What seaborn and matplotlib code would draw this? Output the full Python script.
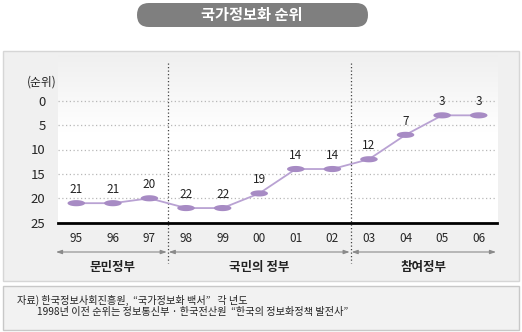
import numpy as np
import matplotlib
matplotlib.use("Agg")
import matplotlib.pyplot as plt
import seaborn as sns
import pandas as pd
from matplotlib.path import Path
from matplotlib.patches import FancyBboxPatch, Rectangle

# ---- data ----
years = ["95", "96", "97", "98", "99", "00", "01", "02", "03", "04", "05", "06"]
ranks = [21, 21, 20, 22, 22, 19, 14, 14, 12, 7, 3, 3]
y_ticks = [0, 5, 10, 15, 20, 25]
eras = ["문민정부", "국민의 정부", "참여정부"]
era_spans = [(0, 3), (3, 8), (8, 12)]
title = "국가정보화 순위"
y_label = "(순위)"
source_lines = ["자료) 한국정보사회진흥원,  “국가정보화 백서”   각 년도",
                "1998년 이전 순위는 정보통신부 · 한국전산원  “한국의 정보화정책 발전사”"]

sns.set_style("white")
plt.rcParams['font.family'] = ['Noto Sans CJK KR', 'DejaVu Sans']

W, H = 522, 332
fig = plt.figure(figsize=(W / 100, H / 100), dpi=100)

# background axes in pixel coordinates
bg = fig.add_axes([0, 0, 1, 1])
bg.set_xlim(0, W)
bg.set_ylim(H, 0)
bg.axis("off")

# title pill
bg.add_patch(FancyBboxPatch((137, 3), 231, 24, boxstyle="round,pad=0,rounding_size=12",
                            fc="#7f7f7f", ec="none", mutation_aspect=1))
bg.text(252, 15, title, color="white", fontsize=11, fontweight="bold",
        ha="center", va="center")

# main panel
bg.add_patch(Rectangle((3, 51), 516, 230, fc="#f0f0f0", ec="#d6d6d6", lw=1))
grad = np.linspace(0, 1, 100).reshape(-1, 1)
grad = np.clip(grad * 2.2, 0, 1)
img = np.dstack([0.94 + 0.06 * grad] * 3)
bg.imshow(img, extent=(58, 498, 225, 55), aspect="auto", interpolation="bilinear", zorder=1)

# footer panel
bg.add_patch(Rectangle((3, 286), 516, 44, fc="#f2f2f2", ec="#c8c8c8", lw=1))
bg.text(17, 300, source_lines[0], fontsize=7.3, va="center", ha="left", color="#222222")
bg.text(37, 312, source_lines[1], fontsize=7.3, va="center", ha="left", color="#222222")

# main axes
x0, x1 = 58, 497
y25, y0px = 222.7, 100.7
ytop = 63
ppu = (y25 - y0px) / 25
ax = fig.add_axes([x0 / W, 1 - y25 / H, (x1 - x0) / W, (y25 - ytop) / H])
ax.patch.set_alpha(0)
ax.set_xlim(0, len(years))
ax.set_ylim(25, -(y0px - ytop) / ppu)

df = pd.DataFrame({"pos": np.arange(len(years)) + 0.5, "rank": ranks})

for g in y_ticks[:-1]:
    ax.axhline(g, color="#b8b8b8", lw=0.9, ls=(0, (1, 2)), zorder=1)

sns.lineplot(data=df, x="pos", y="rank", ax=ax, color="#b9a2d3", lw=1.3, zorder=3)
t = np.linspace(0, 2 * np.pi, 40)
ell = Path(np.column_stack([np.cos(t), 0.35 * np.sin(t)]), closed=True)
sns.scatterplot(data=df, x="pos", y="rank", ax=ax, marker=ell, s=160,
                color="#a78bc4", edgecolor="none", linewidth=0, zorder=4)

for p, r in zip(df["pos"], ranks):
    ax.annotate(str(r), (p, r), xytext=(0, 5), textcoords="offset points",
                ha="center", va="bottom", fontsize=8.5, color="#222222")

for s in ["left", "right", "top"]:
    ax.spines[s].set_visible(False)
ax.spines["bottom"].set_color("black")
ax.spines["bottom"].set_linewidth(2)

ax.set_xticks(np.arange(len(years) + 1))
ax.set_xticklabels([])
ax.tick_params(axis="x", which="major", direction="in", length=5, width=1.3, color="black")
ax.set_xticks(np.arange(len(years)) + 0.5, minor=True)
ax.set_xticklabels(years, minor=True, fontsize=8.5)
ax.tick_params(axis="x", which="minor", length=0, pad=7)

ax.set_yticks(y_ticks)
ax.set_yticklabels([str(v) for v in y_ticks], fontsize=9.5)
ax.tick_params(axis="y", length=0, pad=9)
ax.set_xlabel("")
ax.set_ylabel("")
ax.grid(False)

bg.text(42, 82, y_label, fontsize=8.5, ha="center", va="center", color="#222222")

# era separators, arrows, labels
def xpix(i):
    return x0 + (x1 - x0) * i / len(years)

for b in [3, 8]:
    bg.plot([xpix(b), xpix(b)], [63, 263], color="#444444", lw=0.9, ls=(0, (1, 1.8)), zorder=5)

for name, (a, b) in zip(eras, era_spans):
    xa, xb = xpix(a) + 1, xpix(b) - 1
    if a == 0:
        xa = xpix(a) - 2
    bg.annotate("", xy=(xb, 252), xytext=(xa, 252),
                arrowprops=dict(arrowstyle="<|-|>,head_length=0.35,head_width=0.12",
                                color="#8a8a8a", lw=0.8, shrinkA=0, shrinkB=0))
    bg.text((xpix(a) + xpix(b)) / 2, 267, name, fontsize=9, fontweight="bold",
            ha="center", va="center", color="#222222")

fig.savefig("out.png", dpi=100)
